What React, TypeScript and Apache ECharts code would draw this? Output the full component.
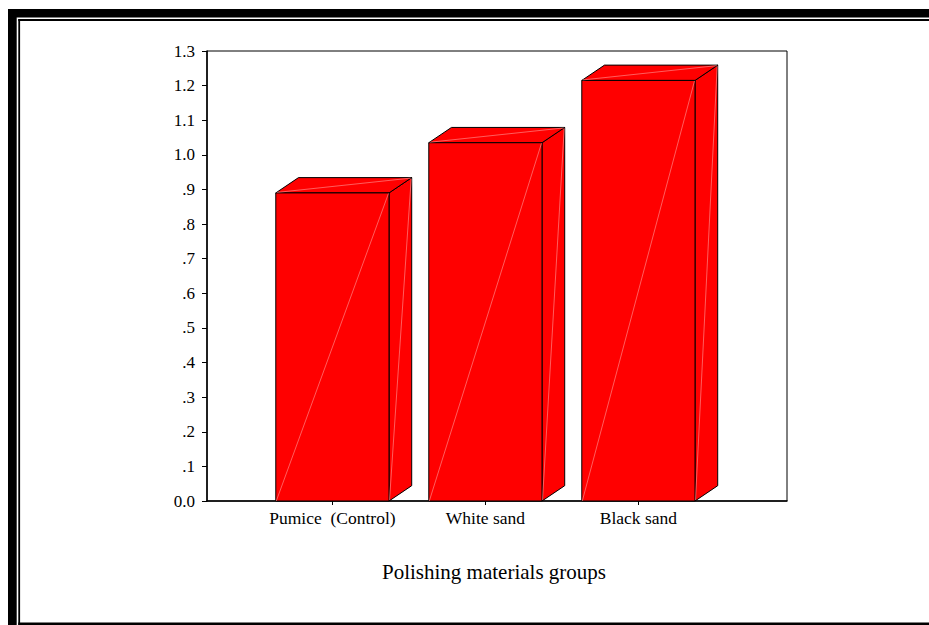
import React, { useEffect, useRef } from "react";
import * as echarts from "echarts";

const categories = ["Pumice  (Control)", "White sand", "Black sand"];
const values = [0.89, 1.035, 1.215];
const yTicks = { min: 0, max: 1.3, interval: 0.1 };
const xTitle = "Polishing materials groups";

function yLabel(v: number): string {
  if (Math.abs(v) < 0.05) return "0.0";
  const s = v.toFixed(1);
  return v < 1 ? s.slice(1) : s;
}

export default function App() {
  const ref = useRef<HTMLDivElement>(null);
  useEffect(() => {
    if (!ref.current) return;
    const chart = echarts.init(ref.current, undefined, { renderer: "svg" });
    const font = "Liberation Serif";
    const dx = 22.7;
    const dy = 15.3;
    const option = {
      animation: false,
      backgroundColor: "#fff",
      grid: {
        left: 207,
        top: 51,
        right: 142,
        bottom: 124,
        show: true,
        borderColor: "#000",
        borderWidth: 1,
        backgroundColor: "transparent",
      },
      xAxis: {
        type: "value",
        min: -0.8196,
        max: 2.9712,
        splitLine: { show: false },
        axisLine: { show: true, onZero: false, lineStyle: { color: "#000", width: 1.5 } },
        axisTick: {
          show: true,
          length: 4,
          lineStyle: { color: "#000" },
          customValues: [0, 1, 2],
        },
        axisLabel: {
          customValues: [0, 1, 2],
          formatter: (v: number) => categories[Math.round(v)] ?? "",
          color: "#000",
          fontFamily: font,
          fontSize: 17.5,
          margin: 8,
        },
      },
      yAxis: {
        type: "value",
        min: yTicks.min,
        max: yTicks.max,
        interval: yTicks.interval,
        splitLine: { show: false },
        axisLine: { show: true, onZero: false, lineStyle: { color: "#000", width: 1.5 } },
        axisTick: { show: true, length: 5, lineStyle: { color: "#000" } },
        axisLabel: {
          formatter: yLabel,
          color: "#000",
          fontFamily: font,
          fontSize: 17,
          margin: 12,
        },
      },
      graphic: [
        { type: "rect", shape: { x: 8, y: 9, width: 921, height: 8.4 }, style: { fill: "#000" } },
        { type: "rect", shape: { x: 8, y: 9, width: 8.7, height: 616 }, style: { fill: "#000" } },
        { type: "rect", shape: { x: 18.3, y: 19, width: 911, height: 2 }, style: { fill: "#000" } },
        { type: "rect", shape: { x: 18.3, y: 19, width: 1.8, height: 606 }, style: { fill: "#000" } },
        { type: "rect", shape: { x: 18.3, y: 622.5, width: 911, height: 2.5 }, style: { fill: "#000" } },
        {
          type: "text",
          x: 494,
          y: 572,
          style: {
            text: xTitle,
            fontSize: 21,
            fontFamily: font,
            fill: "#000",
            align: "center",
            verticalAlign: "middle",
          },
        },
      ],
      series: [
        {
          type: "custom",
          clip: false,
          data: categories.map((c, i) => [i, values[i]]),
          renderItem: (params: any, api: any) => {
            const i = api.value(0);
            const v = api.value(1);
            const base = api.coord([i, 0]);
            const top = api.coord([i, v]);
            const unit = api.size([1, 0])[0];
            const w = unit * 0.74;
            const x0 = base[0] - w / 2;
            const x1 = base[0] + w / 2;
            const yb = base[1];
            const yt = top[1];
            const faceStyle = { fill: "#ff0000", stroke: "#000", lineWidth: 1 };
            const hl = { stroke: "#ff9c9c", lineWidth: 0.6 };
            return {
              type: "group",
              children: [
                {
                  type: "polygon",
                  shape: { points: [[x1, yt], [x1 + dx, yt - dy], [x1 + dx, yb - dy], [x1, yb]] },
                  style: faceStyle,
                },
                {
                  type: "polygon",
                  shape: { points: [[x0, yt], [x0 + dx, yt - dy], [x1 + dx, yt - dy], [x1, yt]] },
                  style: faceStyle,
                },
                {
                  type: "rect",
                  shape: { x: x0, y: yt, width: w, height: yb - yt },
                  style: faceStyle,
                },
                { type: "line", shape: { x1: x0 + 0.5, y1: yb, x2: x1 - 0.5, y2: yt + 0.5 }, style: hl },
                { type: "line", shape: { x1: x0 + 1, y1: yt - 0.5, x2: x1 + dx - 1, y2: yt - dy + 0.5 }, style: hl },
                { type: "line", shape: { x1: x1 + 0.5, y1: yb - 1, x2: x1 + dx - 0.5, y2: yt - dy + 1 }, style: hl },
              ],
            };
          },
        },
      ],
    };
    chart.setOption(option as any);
    return () => chart.dispose();
  }, []);
  return (
    <div
      ref={ref}
      style={{ position: "absolute", left: 0, top: 0, width: 929, height: 625 }}
    />
  );
}
